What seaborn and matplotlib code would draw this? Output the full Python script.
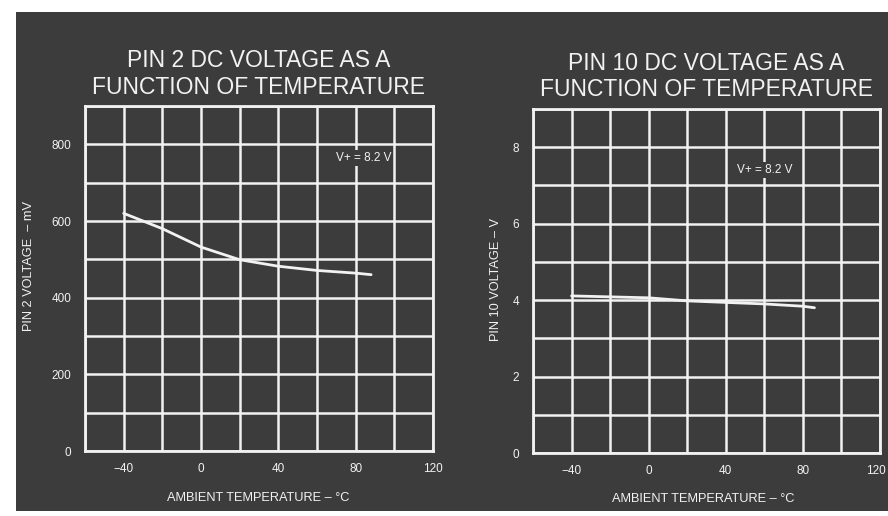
import matplotlib
matplotlib.use("Agg")
import matplotlib.pyplot as plt
import matplotlib.transforms as mtransforms
import seaborn as sns
import numpy as np
import pandas as pd
from matplotlib.patches import Rectangle

# ---- data ----
temp_pin2 = [-40, -20, 0, 20, 40, 60, 80, 88]
pin2_mv = [620, 580, 532, 499, 482, 471, 464, 460]

temp_pin10 = [-40, 0, 20, 40, 60, 80, 86]
pin10_v = [4.11, 4.06, 3.98, 3.94, 3.90, 3.84, 3.80]

x_ticks = [-40, 0, 40, 80, 120]
x_ticklabels = ["\u221240", "0", "40", "80", "120"]
pin2_yticks = [0, 200, 400, 600, 800]
pin10_yticks = [0, 2, 4, 6, 8]

titles = ["PIN 2 DC VOLTAGE AS A\nFUNCTION OF TEMPERATURE",
          "PIN 10 DC VOLTAGE AS A\nFUNCTION OF TEMPERATURE"]
ylabels = ["PIN 2 VOLTAGE  \u2013 mV", "PIN 10 VOLTAGE \u2013 V"]
xlabel = "AMBIENT TEMPERATURE \u2013 \u00b0C"
note = "V+ = 8.2 V"

sns.set_theme(style="dark")
plt.rcParams['font.family'] = ['Liberation Sans', 'DejaVu Sans']

BG = "#3c3c3c"
FG = "#f2f2f2"

fig = plt.figure(figsize=(8.88, 5.16), dpi=100, facecolor="white")
bgrect = Rectangle((16 / 888, 1 - 511 / 516), (888 - 16) / 888, (511 - 12) / 516,
                   transform=fig.transFigure, facecolor=BG, edgecolor="none", zorder=-10)
fig.patches.append(bgrect)

ax1 = fig.add_axes([85 / 888, 1 - 451 / 516, 348 / 888, 345 / 516])
ax2 = fig.add_axes([533 / 888, 1 - 453 / 516, 347 / 888, 344 / 516])

df1 = pd.DataFrame({"t": temp_pin2, "v": pin2_mv})
df2 = pd.DataFrame({"t": temp_pin10, "v": pin10_v})
sns.lineplot(data=df1, x="t", y="v", ax=ax1, color=FG, linewidth=2.0, zorder=5)
sns.lineplot(data=df2, x="t", y="v", ax=ax2, color=FG, linewidth=2.0, zorder=5)

configs = [
    (ax1, (0, 900), 100, pin2_yticks, titles[0], ylabels[0], (-0.144, 0.536), (0.497, -0.119), (84, 764)),
    (ax2, (0, 9), 1, pin10_yticks, titles[1], ylabels[1], (-0.089, 0.503), (0.49, -0.116), (60, 7.4)),
]
for ax, ylim, ystep, yt, title, ylab, ylc, xlc, notexy in configs:
    ax.set_facecolor(BG)
    ax.set_xlim(-60, 120)
    ax.set_ylim(*ylim)
    ax.set_xticks(np.arange(-60, 121, 20), minor=True)
    ax.set_yticks(np.arange(0, ylim[1] + ystep * 0.5, ystep), minor=True)
    ax.set_xticks(x_ticks)
    ax.set_yticks(yt)
    ax.set_xticklabels(x_ticklabels)
    ax.set_yticklabels([str(v) for v in yt])
    ax.grid(True, which="both", color=FG, linewidth=1.8)
    ax.set_axisbelow(True)
    for s in ax.spines.values():
        s.set_visible(True)
        s.set_color(FG)
        s.set_linewidth(2.0)
    ax.tick_params(which="both", length=0, colors=FG, labelsize=8.5)
    ax.tick_params(axis="y", pad=10)
    ax.tick_params(axis="x", pad=9)
    ax.set_title(title, color=FG, fontsize=16.5, pad=9, linespacing=1.2)
    ax.set_ylabel(ylab, color=FG, fontsize=9.2)
    ax.yaxis.set_label_coords(*ylc)
    ax.set_xlabel(xlabel, color=FG, fontsize=9.2)
    ax.xaxis.set_label_coords(*xlc)
    ax.text(notexy[0], notexy[1], note, color=FG, fontsize=8.5, ha="center", va="center",
            bbox=dict(facecolor=BG, edgecolor="none", pad=1.5), zorder=6)

# keep the last tick label of the right panel inside the figure edge
last = ax2.get_xticklabels()[-1]
last.set_horizontalalignment("right")
last.set_transform(last.get_transform() +
                   mtransforms.ScaledTranslation(6 / 100, 0, fig.dpi_scale_trans))

fig.savefig("out.png", dpi=100, facecolor="white")
